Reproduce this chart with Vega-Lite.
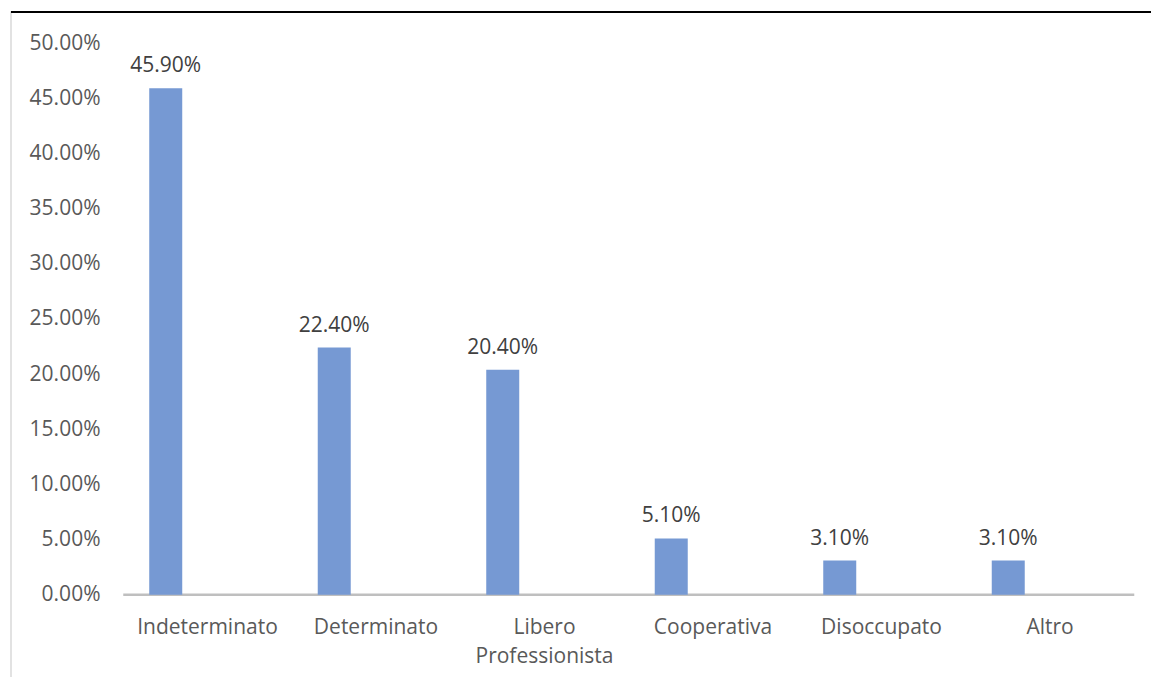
{
  "$schema": "https://vega.github.io/schema/vega-lite/v6.json",
  "autosize": {"type": "none"},
  "width": 1142,
  "height": 667,
  "padding": {"left": 11, "top": 12, "right": -2, "bottom": -2},
  "background": "white",
  "config": {
    "view": {"stroke": "#d9d9d9", "strokeWidth": 1.5},
    "font": "Open Sans"
  },
  "datasets": {
    "main": [
      {"cat": "Indeterminato", "s": "A", "v": 0.459},
      {"cat": "Determinato", "s": "A", "v": 0.224},
      {"cat": "Libero Professionista", "s": "A", "v": 0.204},
      {"cat": "Cooperativa", "s": "A", "v": 0.051},
      {"cat": "Disoccupato", "s": "A", "v": 0.031},
      {"cat": "Altro", "s": "A", "v": 0.031}
    ],
    "base": [{"from": "Indeterminato", "to": "Altro", "v": 0}],
    "topline": [{"v": 0.5282}]
  },
  "layer": [
    {
      "data": {"name": "base"},
      "mark": {"type": "rule", "color": "#bfbfbf", "strokeWidth": 2.5},
      "encoding": {
        "x": {"field": "from", "type": "nominal", "bandPosition": 0},
        "x2": {"field": "to", "bandPosition": 1},
        "y": {"field": "v", "type": "quantitative"}
      }
    },
    {
      "data": {"name": "main"},
      "mark": {"type": "bar", "color": "#7699d3"},
      "encoding": {
        "x": {
          "field": "cat",
          "type": "nominal",
          "scale": {
            "domain": ["Indeterminato", "Determinato", "Libero Professionista", "Cooperativa", "Disoccupato", "Altro"],
            "paddingInner": 0,
            "paddingOuter": 0.3887,
            "align": 0.857
          },
          "axis": {
            "title": null,
            "domain": false,
            "ticks": false,
            "tickSize": 0,
            "labelPadding": 23.5,
            "offset": -86,
            "labelAngle": 0,
            "labelAlign": "center",
            "labelFontSize": 21,
            "labelFont": "Open Sans",
            "labelColor": "#595959",
            "labelLineHeight": 28.5,
            "labelBaseline": "top",
            "labelLimit": 0,
            "labelOverlap": false,
            "labelExpr": "datum.label == 'Libero Professionista' ? ['Libero', 'Professionista'] : datum.label"
          }
        },
        "xOffset": {
          "field": "s",
          "type": "nominal",
          "scale": {"domain": ["A", "B"], "paddingInner": 0.605, "paddingOuter": 0.311}
        },
        "y": {
          "field": "v",
          "type": "quantitative",
          "scale": {"domain": [-0.0764, 0.5282], "nice": false, "zero": false},
          "axis": {
            "title": null,
            "values": [0, 0.05, 0.1, 0.15, 0.2, 0.25, 0.3, 0.35, 0.4, 0.45, 0.5],
            "format": ".2%",
            "domain": false,
            "ticks": false,
            "tickSize": 0,
            "grid": false,
            "labelPadding": 0,
            "offset": -89,
            "labelFontSize": 21,
            "labelFont": "Open Sans",
            "labelColor": "#595959"
          }
        }
      }
    },
    {
      "data": {"name": "main"},
      "mark": {"type": "text", "baseline": "alphabetic", "dy": -16, "fontSize": 21, "font": "Open Sans", "color": "#404040"},
      "encoding": {
        "x": {"field": "cat", "type": "nominal"},
        "xOffset": {"field": "s", "type": "nominal"},
        "y": {"field": "v", "type": "quantitative"},
        "text": {"field": "v", "type": "quantitative", "format": ".2%"}
      }
    },
    {
      "data": {"name": "topline"},
      "mark": {"type": "rule", "color": "#000000", "strokeWidth": 2},
      "encoding": {
        "y": {"field": "v", "type": "quantitative"}
      }
    }
  ]
}
